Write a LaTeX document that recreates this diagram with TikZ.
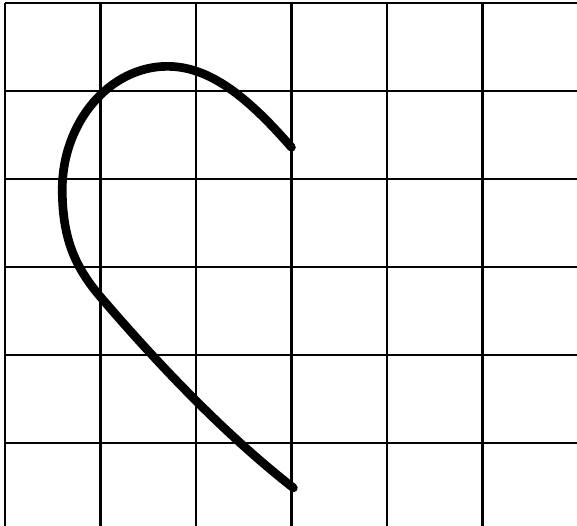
\documentclass[tikz,border=0pt]{standalone}
\usepackage{tikz}

\begin{document}
\begin{tikzpicture}[x=2.4cm,y=2.2115cm,line cap=round,line join=round]
\useasboundingbox[fill=white] (-0.052,0.057) rectangle (5.99,6.034);
\foreach \i in {0,...,5}
  \draw[line width=1.8pt,line cap=butt] (\i,0.057) -- (\i,6);
\foreach \j in {1,...,6}
  \draw[line width=1.8pt,line cap=butt] (0,\j) -- (5.99,\j);
\coordinate (s) at (3.0,4.36);
\coordinate (top) at (1.7,5.28);
\coordinate (left) at (0.6,3.88);
\coordinate (mid) at (1.0,2.66);
\coordinate (t) at (3.02,0.49);
\draw[line width=6.2pt] (s) .. controls (2.55,4.92) and (2.15,5.28) .. (top)
  .. controls (1.1,5.28) and (0.6,4.65) .. (left)
  .. controls (0.6,3.3) and (0.75,2.98) .. (mid)
  .. controls (1.6,1.9) and (2.3,1.1) .. (t);
\end{tikzpicture}
\end{document}
